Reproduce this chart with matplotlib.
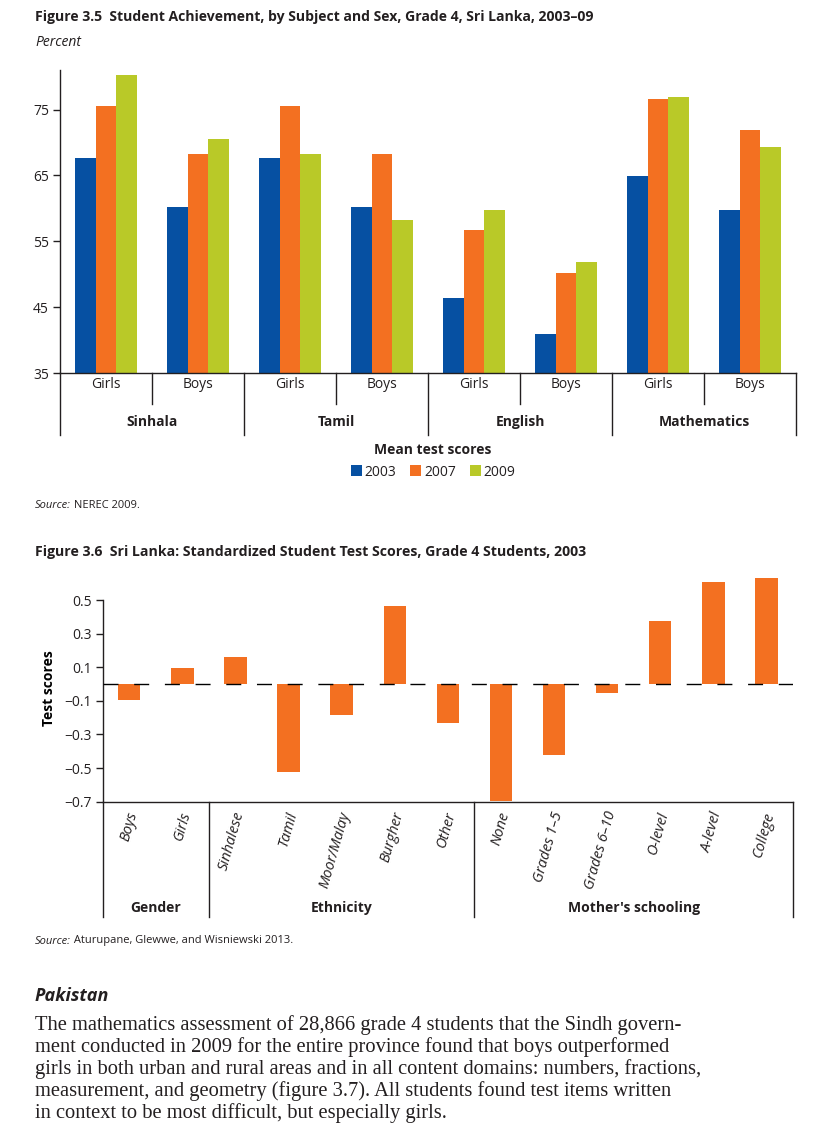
"""Sri Lanka grade 4 student achievement: figures 3.5 and 3.6 with page text."""

import matplotlib

matplotlib.use("Agg")
import matplotlib.pyplot as plt
from matplotlib.patches import Patch
from matplotlib.transforms import blended_transform_factory

# ---- figure 3.5 data -------------------------------------------------------
subjects = ["Sinhala", "Tamil", "English", "Mathematics"]
sexes = ["Girls", "Boys"]
years = ["2003", "2007", "2009"]
scores_2003 = [67.6, 60.2, 67.6, 60.2, 46.4, 41.0, 64.9, 59.7]
scores_2007 = [75.5, 68.2, 75.5, 68.2, 56.7, 50.2, 76.6, 71.9]
scores_2009 = [80.2, 70.6, 68.2, 58.2, 59.7, 51.9, 76.9, 69.3]
score_ticks = [35, 45, 55, 65, 75]

# ---- figure 3.6 data -------------------------------------------------------
group_names = ["Gender", "Ethnicity", "Mother's schooling"]
group_sizes = [2, 5, 6]
category_labels = [
    "Boys", "Girls",
    "Sinhalese", "Tamil", "Moor/Malay", "Burgher", "Other",
    "None", "Grades 1\u20135", "Grades 6\u201310", "O-level", "A-level", "College",
]
std_scores = [-0.095, 0.095, 0.16, -0.525, -0.185, 0.465, -0.23,
              -0.695, -0.425, -0.055, 0.375, 0.605, 0.63]
std_ticks = [0.5, 0.3, 0.1, -0.1, -0.3, -0.5, -0.7]

BLUE = "#0650A2"
ORANGE = "#F37021"
GREEN = "#B9C928"
INK = "#231F20"

SANS = ["Open Sans", "DejaVu Sans"]
SERIF = ["Liberation Serif", "DejaVu Serif"]
plt.rcParams["font.family"] = SANS
plt.rcParams["text.color"] = INK
plt.rcParams["axes.edgecolor"] = INK
plt.rcParams["xtick.color"] = INK
plt.rcParams["ytick.color"] = INK

W, H = 826, 1141
fig = plt.figure(figsize=(W / 100, H / 100), dpi=100)


def fx(px):
    return px / W


def fy(py):
    return 1 - py / H


# ---------------------------------------------------------------- figure 3.5
fig.text(fx(35), fy(17), "Figure 3.5  Student Achievement, by Subject and Sex, Grade 4, Sri Lanka, 2003\u201309",
         fontsize=10.1, fontweight="bold", va="center", ha="left")
fig.text(fx(35), fy(42), "Percent", fontsize=10, style="italic", va="center", ha="left")

ax1 = fig.add_axes([fx(60), fy(373.3), fx(736), 303.3 / H])
n_cat = len(scores_2003)
xs = list(range(n_cat))
bw = 0.225
for off, vals, col in [(-bw, scores_2003, BLUE), (0, scores_2007, ORANGE), (bw, scores_2009, GREEN)]:
    ax1.bar([x + off for x in xs], [v - 35 for v in vals], bottom=35, width=bw, color=col, linewidth=0)
ax1.set_xlim(-0.5, n_cat - 0.5)
ax1.set_ylim(35, 81)
ax1.set_yticks(score_ticks)
ax1.set_xticks([])
ax1.tick_params(axis="y", direction="out", length=5, width=1, labelsize=10, pad=3)
for s in ("top", "right"):
    ax1.spines[s].set_visible(False)
for s in ("left", "bottom"):
    ax1.spines[s].set_linewidth(1)

tr1 = blended_transform_factory(ax1.transData, ax1.transAxes)
for i in range(n_cat):
    ax1.text(i, -0.038, sexes[i % 2], transform=tr1, ha="center", va="center", fontsize=10)
for b in range(n_cat + 1):
    bottom = -0.2034 if b % 2 == 0 else -0.1012
    ax1.plot([b - 0.5, b - 0.5], [0, bottom], transform=tr1, color=INK, lw=1, clip_on=False)
for g, name in enumerate(subjects):
    ax1.text(2 * g + 0.5, -0.16, name, transform=tr1, ha="center", va="center",
             fontsize=10, fontweight="bold")

fig.text(fx(433), fy(450), "Mean test scores", fontsize=10, fontweight="bold", ha="center", va="center")
handles = [Patch(facecolor=c, edgecolor="none") for c in (BLUE, ORANGE, GREEN)]
fig.legend(handles, years, loc="center", bbox_to_anchor=(fx(433), fy(472)), ncol=3, frameon=False,
           fontsize=10, handlelength=0.8, handleheight=0.8, handletextpad=0.2, columnspacing=1.0,
           borderpad=0)

src1 = fig.text(fx(35), fy(505), "Source:", fontsize=8, style="italic", ha="left", va="center")
ax1.annotate(" NEREC 2009.", xy=(1, 0.5), xycoords=src1, fontsize=8, ha="left", va="center")

# ---------------------------------------------------------------- figure 3.6
fig.text(fx(35), fy(552), "Figure 3.6  Sri Lanka: Standardized Student Test Scores, Grade 4 Students, 2003",
         fontsize=10.2, fontweight="bold", va="center", ha="left")

ax2 = fig.add_axes([fx(102.7), fy(801.7), fx(690.3), 226.9 / H])
n2 = len(std_scores)
ax2.bar(range(n2), std_scores, width=0.42, color=ORANGE, linewidth=0, zorder=2)
ax2.axhline(0, color="black", lw=1, dashes=(10.8, 11.3), zorder=3)
ax2.set_xlim(-0.5, n2 - 0.5)
ax2.set_ylim(-0.7, 0.65)
ax2.set_yticks(std_ticks)
ax2.set_yticklabels([f"{t:.1f}".replace("-", "\u2212") for t in std_ticks])
ax2.set_xticks([])
ax2.tick_params(axis="y", direction="out", length=5, width=1, labelsize=10, pad=3)
ax2.spines["left"].set_bounds(-0.7, 0.5)
for s in ("top", "right"):
    ax2.spines[s].set_visible(False)
for s in ("left", "bottom"):
    ax2.spines[s].set_linewidth(1)
ax2.set_ylabel("Test scores", fontsize=10, fontweight="bold", labelpad=6)

tr2 = blended_transform_factory(ax2.transData, ax2.transAxes)
for i, lab in enumerate(category_labels):
    ax2.text(i + 0.08, -0.045, lab, transform=tr2, rotation=74, rotation_mode="anchor",
             ha="right", va="center", fontsize=10.5, style="italic")
edges = [0]
for size in group_sizes:
    edges.append(edges[-1] + size)
for e in edges:
    ax2.plot([e - 0.5, e - 0.5], [0, -0.508], transform=tr2, color=INK, lw=1, clip_on=False)
for g, name in enumerate(group_names):
    mid = (edges[g] + edges[g + 1]) / 2 - 0.5
    ax2.text(mid, -0.468, name, transform=tr2, ha="center", va="center", fontsize=10, fontweight="bold")

src2 = fig.text(fx(35), fy(941), "Source:", fontsize=8, style="italic", ha="left", va="center")
ax2.annotate(" Aturupane, Glewwe, and Wisniewski 2013.", xy=(1, 0.5), xycoords=src2,
             fontsize=8, ha="left", va="center")

# ---------------------------------------------------------------- page text
fig.text(fx(35), fy(996), "Pakistan", fontsize=13, fontweight="bold", style="italic",
         ha="left", va="center", family=SANS)
body_lines = [
    "The mathematics assessment of 28,866 grade 4 students that the Sindh govern-",
    "ment conducted in 2009 for the entire province found that boys outperformed",
    "girls in both urban and rural areas and in all content domains: numbers, fractions,",
    "measurement, and geometry (figure 3.7). All students found test items written",
    "in context to be most difficult, but especially girls.",
]
for k, line in enumerate(body_lines):
    fig.text(fx(35), fy(1025 + 22 * k), line, fontsize=14.8, family=SERIF, ha="left", va="center")

fig.savefig("out.png", dpi=100)
